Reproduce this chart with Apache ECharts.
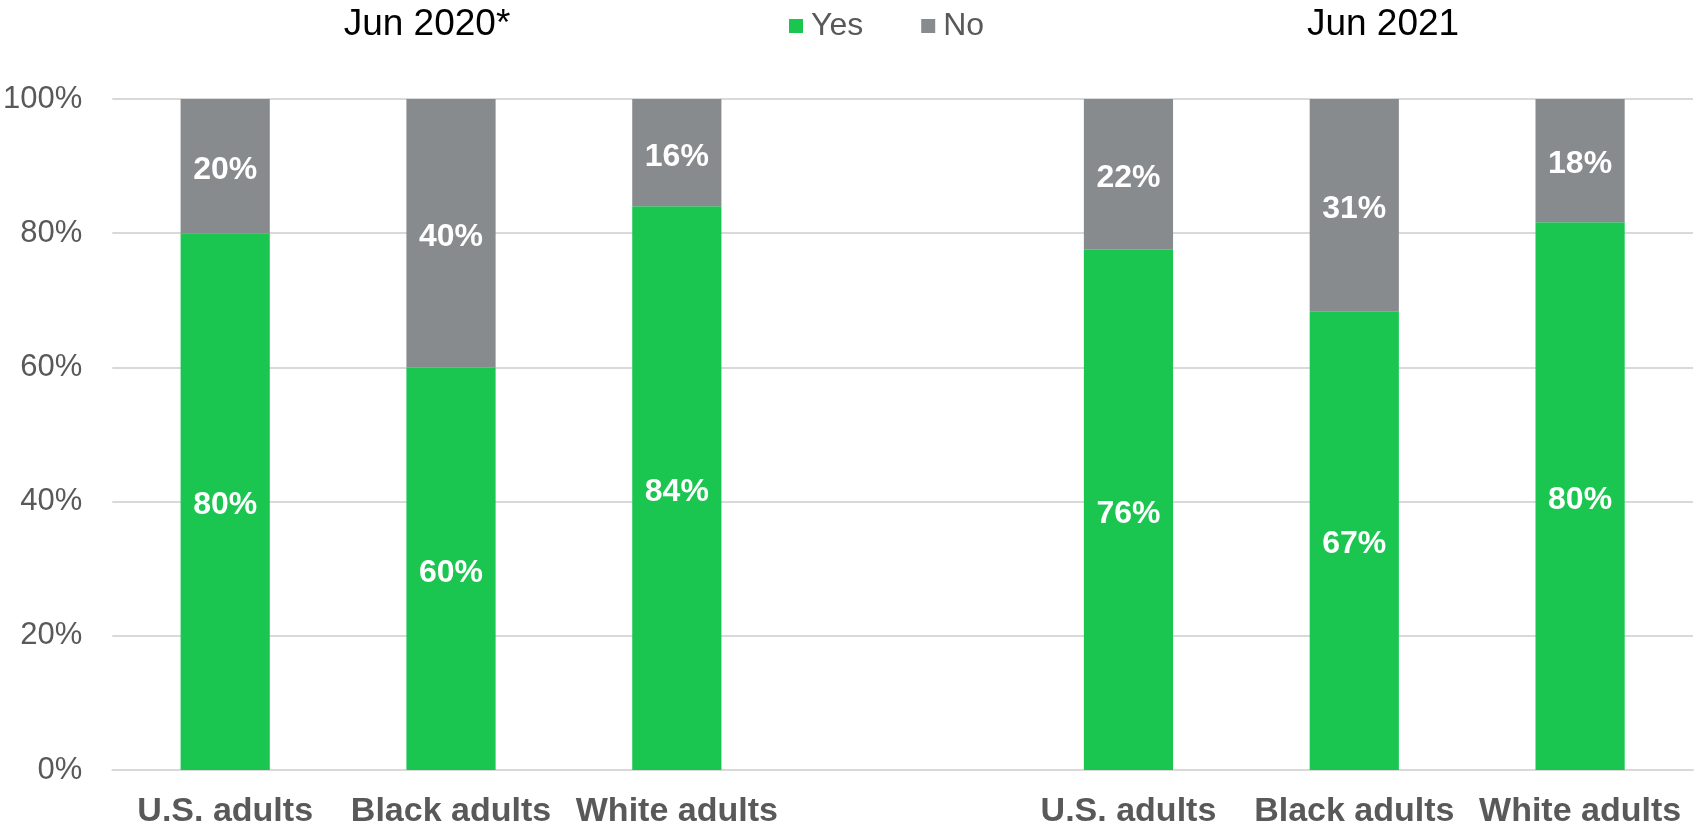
<!DOCTYPE html>
<html>
<head>
<meta charset="utf-8">
<script src="https://cdn.jsdelivr.net/npm/echarts@6/dist/echarts.min.js"></script>
<style>
html,body{margin:0;padding:0;background:#fff;}
#chart{width:1696px;height:829px;}
</style>
</head>
<body>
<div id="chart"></div>
<script>
const categories = ['U.S. adults', 'Black adults', 'White adults', '', 'U.S. adults ', 'Black adults ', 'White adults '];
const yesValues = [80, 60, 84, null, 76, 67, 80];
const noValues = [20, 40, 16, null, 22, 31, 18];
const yTickLabels = ['0%', '20%', '40%', '60%', '80%', '100%'];
const periodTitles = ['Jun 2020*', 'Jun 2021'];
const seriesNames = ['Yes', 'No'];

const FONT = "'Liberation Sans', Arial, sans-serif";
const GREEN = '#1AC650';
const GRAY = '#888B8D';

function share(a, b, i) {
  if (a[i] == null) return null;
  return a[i] / (a[i] + b[i]) * 100;
}
const yesShare = yesValues.map((v, i) => ({ value: share(yesValues, noValues, i), raw: v }));
const noShare = noValues.map((v, i) => ({ value: share(noValues, yesValues, i), raw: v }));

const chart = echarts.init(document.getElementById('chart'), null, { renderer: 'canvas' });

const labelStyle = {
  show: true,
  position: 'inside',
  offset: [0, 4],
  color: '#fff',
  fontWeight: 'bold',
  fontSize: 32,
  fontFamily: FONT,
  formatter: p => (p.data.raw == null ? '' : p.data.raw + '%')
};

chart.setOption({
  animation: false,
  textStyle: { fontFamily: FONT },
  title: [
    { text: periodTitles[0], left: 422, top: 1, textAlign: 'center',
      textStyle: { fontSize: 37, fontWeight: 'normal', color: '#000', fontFamily: FONT } },
    { text: periodTitles[1], left: 1378, top: 1, textAlign: 'center',
      textStyle: { fontSize: 37, fontWeight: 'normal', color: '#000', fontFamily: FONT } }
  ],
  legend: {
    data: seriesNames,
    left: 784,
    top: 5,
    itemWidth: 14,
    itemHeight: 14,
    itemGap: 58,
    icon: 'rect',
    textStyle: { fontSize: 32, color: '#595959', fontFamily: FONT, padding: [0, 0, 0, 3] }
  },
  grid: { left: 112, right: 3, top: 99, bottom: 57, containLabel: false },
  xAxis: {
    type: 'category',
    data: categories,
    axisLine: { lineStyle: { color: '#D9D9D9', width: 2 } },
    axisTick: { show: false },
    axisLabel: {
      interval: 0,
      margin: 25,
      fontSize: 34,
      fontWeight: 'bold',
      color: '#595959',
      fontFamily: FONT,
      formatter: v => v.trim()
    }
  },
  yAxis: {
    type: 'value',
    min: 0,
    max: 100,
    interval: 20,
    axisLine: { show: false },
    axisTick: { show: false },
    splitLine: { lineStyle: { color: '#D9D9D9', width: 2 } },
    axisLabel: {
      margin: 30,
      fontSize: 31,
      color: '#595959',
      fontFamily: FONT,
      formatter: v => yTickLabels[Math.round(v / 20)]
    }
  },
  series: [
    { name: seriesNames[0], type: 'bar', stack: 'total', data: yesShare, barWidth: '39.5%',
      itemStyle: { color: GREEN }, label: labelStyle },
    { name: seriesNames[1], type: 'bar', stack: 'total', data: noShare, barWidth: '39.5%',
      itemStyle: { color: GRAY }, label: labelStyle }
  ]
});
</script>
</body>
</html>
